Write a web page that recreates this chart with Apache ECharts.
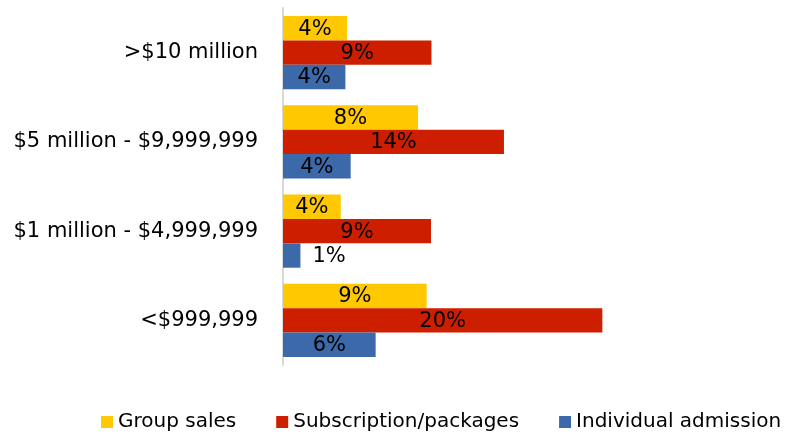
<!DOCTYPE html>
<html>
<head>
<meta charset="utf-8">
<script src="https://cdn.jsdelivr.net/npm/echarts@6/dist/echarts.min.js"></script>
<style>html,body{margin:0;padding:0;background:#fff}#c{width:788px;height:438px}</style>
</head>
<body>
<div id="c"></div>
<script>
// Categories, bottom to top
const categories = ['<$999,999', '$1 million - $4,999,999', '$5 million - $9,999,999', '>$10 million'];
const seriesNames = ['Group sales', 'Subscription/packages', 'Individual admission'];
// Values in percent (bar lengths, labels rounded)
const groupSales = [8.98, 3.61, 8.44, 4.0];
const subscriptionPackages = [19.96, 9.25, 13.81, 9.28];
const individualAdmission = [5.79, 1.09, 4.23, 3.9];

const colors = ['#FFC800', '#CD1F00', '#3C69A9'];
const font = 'DejaVu Sans';

function makeData(vals) {
  return vals.map(v => {
    if (v < 2) {
      return { value: v, label: { position: 'right', distance: 12 } };
    }
    return { value: v };
  });
}

const values = [groupSales, subscriptionPackages, individualAdmission];

const chart = echarts.init(document.getElementById('c'));
chart.setOption({
  animation: false,
  legend: {
    data: seriesNames,
    left: 101,
    top: 412,
    width: 720,
    padding: 0,
    itemWidth: 12,
    itemHeight: 12,
    itemGap: 40,
    icon: 'rect',
    textStyle: { fontFamily: font, fontSize: 20, color: '#000' }
  },
  grid: { left: 283, right: 153, top: 8, bottom: 73, containLabel: false },
  xAxis: {
    type: 'value', min: 0, max: 22, interval: 2,
    show: false
  },
  yAxis: {
    type: 'category',
    data: categories,
    axisLine: { show: true, lineStyle: { color: '#D9D9D9', width: 2 } },
    axisTick: { show: false },
    axisLabel: { fontFamily: font, fontSize: 21, color: '#000', margin: 25 }
  },
  series: values.map((vals, i) => ({
    name: seriesNames[i],
    type: 'bar',
    data: makeData(vals),
    barGap: '0%',
    barCategoryGap: '18%',
    itemStyle: { color: colors[i] },
    label: {
      show: true,
      position: 'inside',
      color: '#000',
      fontFamily: font,
      fontSize: 21,
      offset: [0, 1],
      formatter: p => Math.round(p.value) + '%'
    }
  }))
});
</script>
</body>
</html>
